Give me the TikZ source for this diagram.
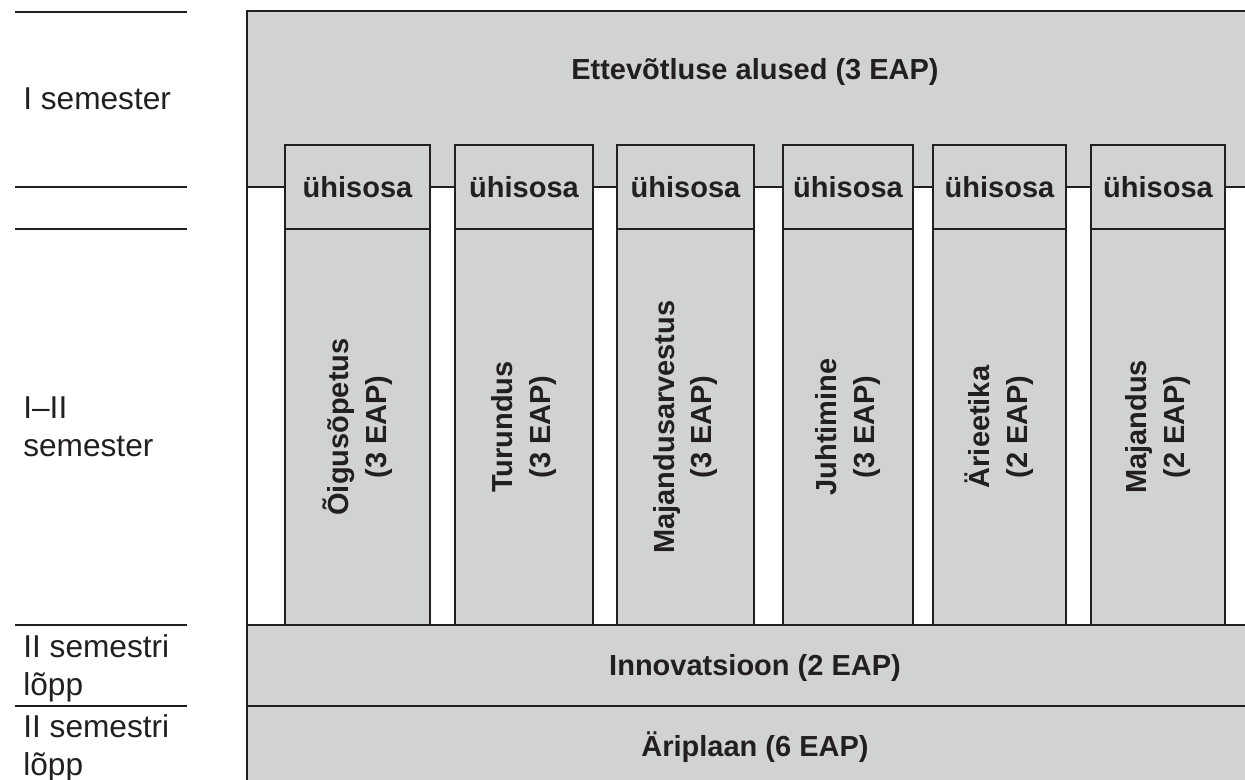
\documentclass[tikz,border=0pt]{standalone}
\usepackage{fontspec}
\setmainfont{Liberation Sans}
\definecolor{panel}{RGB}{209,211,210}
\definecolor{ink}{RGB}{35,31,32}
\begin{document}
\begin{tikzpicture}[x=0.02cm,y=-0.02cm,
  rule/.style={draw=ink,line width=1.35pt},
  band/.style={rule,fill=panel},
  boldtext/.style={font=\fontsize{16.5}{21.6}\selectfont\bfseries,text=ink,inner sep=0pt},
  sidetext/.style={font=\fontsize{18}{21.6}\selectfont,text=ink,align=left,inner sep=0pt},
  coltext/.style={boldtext,rotate=90,align=center},
]
\useasboundingbox (0,0) rectangle (1245,780);
\clip (0,0) rectangle (1245,780);

% outer frame of the curriculum block
\draw[rule] (247,11) rectangle (1265,790);

% first semester block
\draw[band] (247,11) rectangle (1265,187);

% subject columns with their common part on top
\foreach \a/\b/\t [count=\i] in {
  285/430/{Õigusõpetus\\(3 EAP)},
  455/593/{Turundus\\(3 EAP)},
  617/754/{Majandusarvestus\\(3 EAP)},
  783/913/{Juhtimine\\(3 EAP)},
  933/1066/{Ärieetika\\(2 EAP)},
  1091/1225/{Majandus\\(2 EAP)}}{
  \draw[band] (\a,145) rectangle (\b,229);
  \draw[band] (\a,229) rectangle (\b,625);
  \node[boldtext,anchor=base] (common\i) at ({(\a+\b)/2},198) {ühisosa};
  \node[coltext] (subject\i) at ({(\a+\b)/2},427) {\t};
}

% end of second semester bands
\draw[band] (247,625) rectangle (1265,706);
\draw[band] (247,706) rectangle (1265,790);

\node[boldtext,anchor=base] (basics) at (755,80) {Ettevõtluse alused (3 EAP)};
\node[boldtext,anchor=base] (innovation) at (755,675) {Innovatsioon (2 EAP)};
\node[boldtext,anchor=base] (plan) at (755,756) {Äriplaan (6 EAP)};

% semester scale on the left
\foreach \y in {12,187,229,625,706}
  \draw[rule] (15,\y) -- (187,\y);

\node[sidetext,anchor=base west] (sem1) at (23,110) {I semester};
\node[sidetext,anchor=north west] (sem12) at (23,396.5) {I–II\\semester};
\node[sidetext,anchor=north west] (sem2a) at (23,634.5) {II semestri\\lõpp};
\node[sidetext,anchor=north west] (sem2b) at (23,714.5) {II semestri\\lõpp};
\end{tikzpicture}
\end{document}
